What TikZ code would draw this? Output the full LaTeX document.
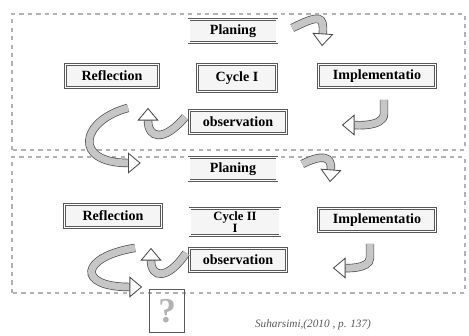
\documentclass[tikz,border=0pt]{standalone}
\usepackage{fontspec}
\setmainfont{Liberation Serif}
\usetikzlibrary{arrows.meta, positioning, calc}

\begin{document}
\begin{tikzpicture}[
    x=0.025cm, y=0.025cm,
    stage/.style={rectangle, draw=gray!70!black, double, double distance=1.2pt, fill=gray!8, minimum height=0.58cm, align=center, inner sep=2pt, font=\fontsize{10}{11}\selectfont\bfseries},
    cyclebox/.style={rectangle, draw=gray!60, dashed, thick},
    flow/.style={draw=gray!60!black, line width=0.5pt, double=gray!45, double distance=5pt, -{Triangle[open, length=9pt, width=15pt, line width=0.6pt, fill=white]}}
  ]
    \useasboundingbox (0,0) rectangle (469,336);

    % Cycle frames
    \draw[cyclebox] (12,186) rectangle (465,322);
    \draw[cyclebox] (12,43) rectangle (465,179);

    % Cycle I
    \node[stage, minimum width=2.2cm] (plan1) at (233,305) {Planing};
    \node[stage, minimum width=2.33cm] (refl1) at (112,260) {Reflection};
    \node[stage, minimum width=1.98cm, minimum height=0.68cm] (cyc1) at (237,258) {Cycle I};
    \node[stage, minimum width=2.93cm] (impl1) at (377,260) {Implementatio};
    \node[stage, minimum width=2.43cm] (obs1) at (238,214) {observation};

    % Cycle II
    \node[stage, minimum width=2.2cm] (plan2) at (233,167) {Planing};
    \node[stage, minimum width=2.43cm] (refl2) at (113,120) {Reflection};
    \node[stage, minimum width=2.25cm, minimum height=0.68cm, inner sep=0.5pt, font=\small\bfseries] (cyc2) at (235,114) {Cycle II\\[-2pt]I};
    \node[stage, minimum width=2.93cm] (impl2) at (377,116) {Implementatio};
    \node[stage, minimum width=2.43cm] (obs2) at (238,76) {observation};

    % Next cycle
    \node[draw=gray!70!black, minimum width=0.88cm, minimum height=1.08cm, inner sep=0pt, font=\Huge\bfseries, text=gray!60] (next) at (167,25) {?};
    \node[font=\footnotesize\itshape, text=gray!70!black] (source) at (313,11) {Suharsimi,(2010 , p. 137)};

    % Arrows cycle I
    \draw[flow] ($(plan1.east)+(15,3)$) .. controls +(28,14) and +(2,30) .. ($(impl1.north)+(-55,18)$);
    \draw[flow] ($(impl1.south)+(7,-12)$) -- +(0,-14) .. controls +(0,-14) and +(10,0) .. ($(obs1.east)+(55,-3)$);
    \draw[flow] ($(obs1.west)+(-4,5)$) .. controls +(-22,-26) and +(0,-30) .. ($(refl1.south)+(36,-20)$);
    \draw[flow] ($(refl1.south)+(16,-20)$) .. controls +(-48,-13) and +(-68,0) .. ($(plan2.west)+(-48,6)$);

    % Arrows cycle II
    \draw[flow] ($(plan2.east)+(25,5)$) .. controls +(20,10) and +(2,26) .. ($(impl2.north)+(-47,26)$);
    \draw[flow] ($(impl2.south)+(-7,-12)$) -- +(0,-14) .. controls +(0,-12) and +(10,0) .. ($(obs2.east)+(46,-8)$);
    \draw[flow] ($(obs2.west)+(-3,7)$) .. controls +(-19,-28) and +(0,-30) .. ($(refl2.south)+(38,-20)$);
    \draw[flow] ($(refl2.south)+(22,-20)$) .. controls +(-55,-9) and +(-66,0) .. ($(next.west)+(-7,24)$);
\end{tikzpicture}
\end{document}
